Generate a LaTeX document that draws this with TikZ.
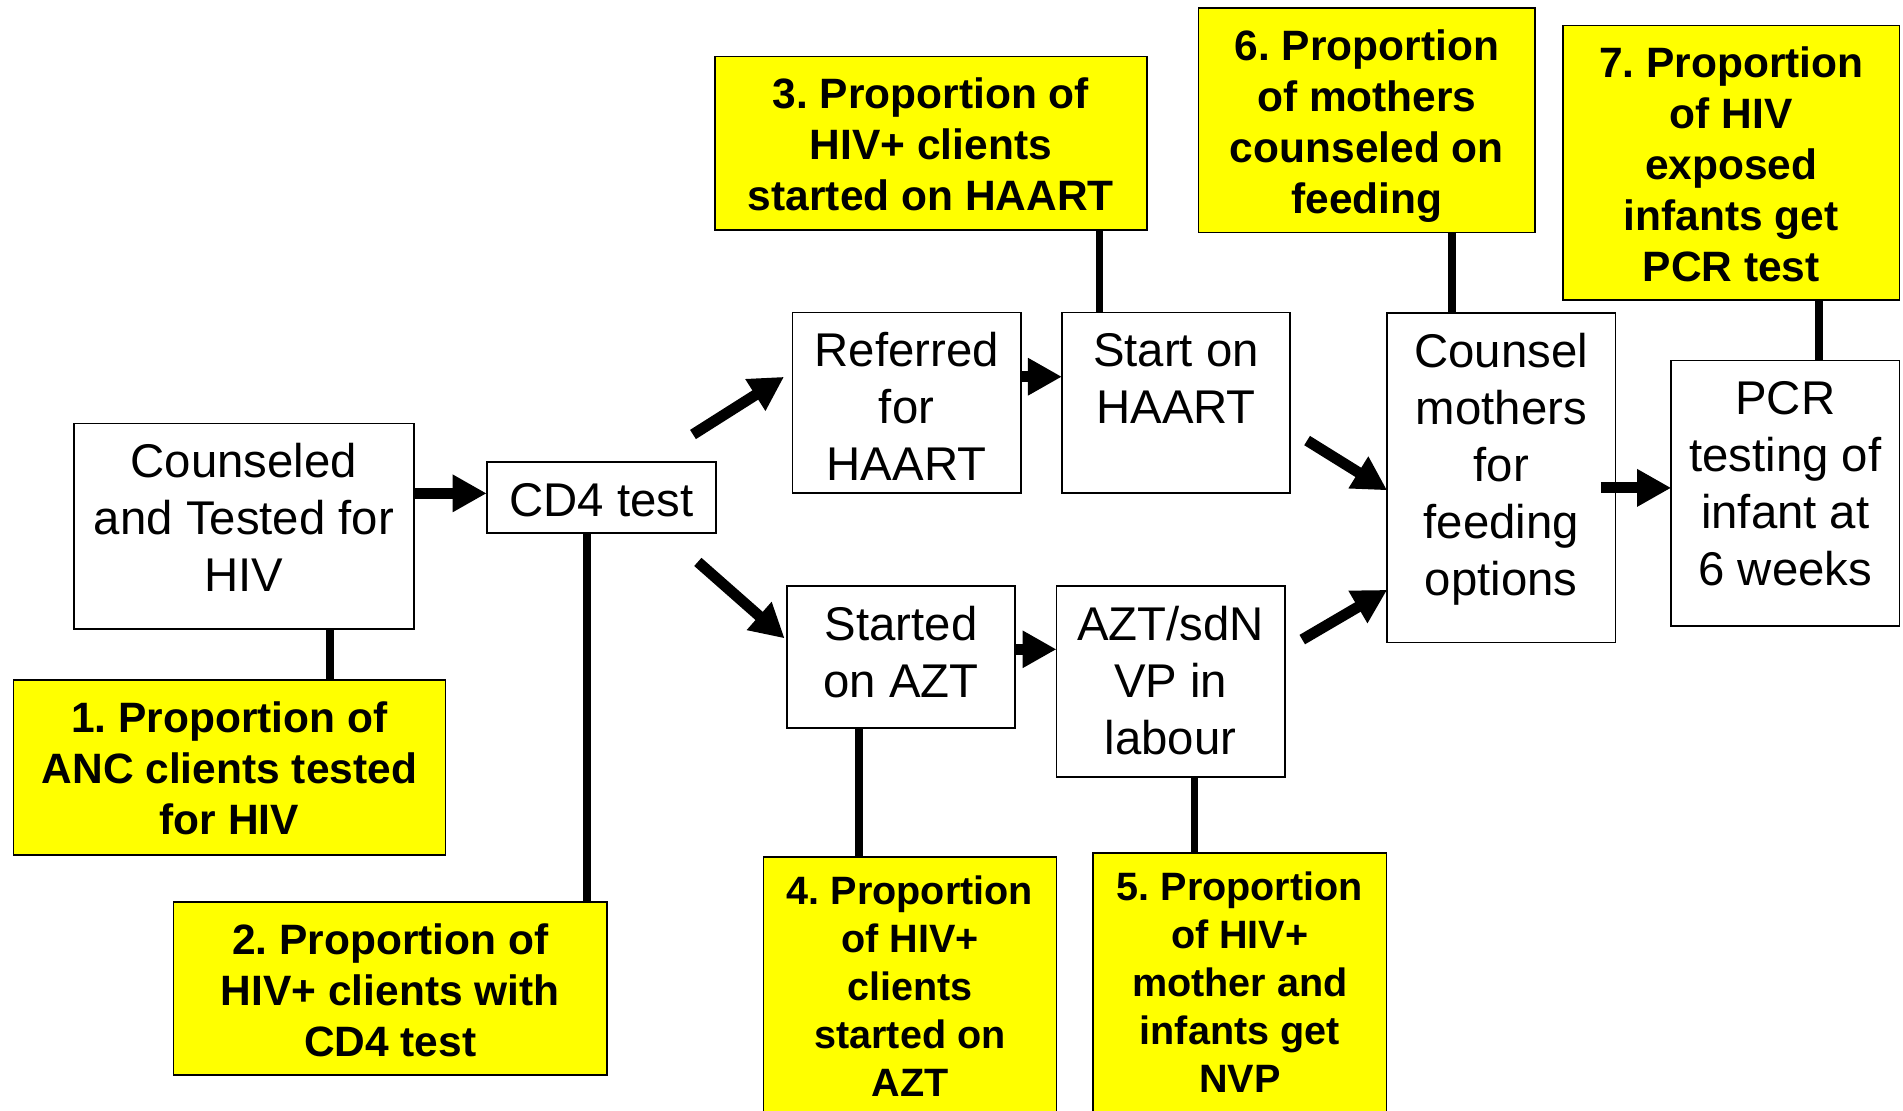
\documentclass[tikz,border=0pt]{standalone}
\usepackage{fontspec}
\setmainfont{Liberation Sans}
\usetikzlibrary{arrows.meta}
\definecolor{hl}{RGB}{255,255,0}
\frenchspacing
\begin{document}
\begin{tikzpicture}[x=1pt,y=-1pt,
  box/.style={draw=black, line width=1.4pt, fill=white, inner sep=0pt, outer sep=0pt, anchor=north west},
  ybox/.style={box, fill=hl},
  rtxt/.style={anchor=north, inner sep=0pt, align=center, font=\fontsize{39}{47}\selectfont},
  btxt/.style={anchor=north, inner sep=0pt, align=center, font=\fontsize{35}{42}\selectfont\bfseries},
  stxt/.style={anchor=north, inner sep=0pt, align=center, font=\fontsize{32.6}{39.5}\selectfont\bfseries},
  flow/.style={line width=9pt, -{Triangle[length=28pt,width=29pt]}},
  link/.style={line width=6pt}]
\fill[white] (0,0) rectangle (1568,915);
\useasboundingbox (0,0) rectangle (1568,915);

% white boxes
\node[box, minimum width=280pt, minimum height=169.5pt] (cnt) at (61,349) {};
\node[rtxt] (cnt-t) at ([yshift=-11.6pt]cnt.north) {\strut Counseled\\\strut and Tested for\\\strut HIV};
\node[box, minimum width=189pt, minimum height=58.5pt] (cd4) at (401,380.5) {};
\node[rtxt] (cd4-t) at ([yshift=-11.6pt]cd4.north) {\strut CD4 test};
\node[box, minimum width=188pt, minimum height=148.5pt] (ref) at (653,257.5) {};
\node[rtxt] (ref-t) at ([yshift=-11.6pt]ref.north) {\strut Referred\\\strut for\\\strut HAART};
\node[box, minimum width=188pt, minimum height=148.5pt] (sth) at (875,257.5) {};
\node[rtxt] (sth-t) at ([yshift=-11.6pt]sth.north) {\strut Start on\\\strut HAART};
\node[box, minimum width=188pt, minimum height=271.5pt] (cou) at (1143,258) {};
\node[rtxt] (cou-t) at ([yshift=-11.6pt]cou.north) {\strut Counsel\\\strut mothers\\\strut for\\\strut feeding\\\strut options};
\node[box, minimum width=188pt, minimum height=219pt] (pcr) at (1377,297) {};
\node[rtxt] (pcr-t) at ([yshift=-11.6pt]pcr.north) {\strut PCR\\\strut testing of\\\strut infant at\\\strut 6 weeks};
\node[box, minimum width=188pt, minimum height=117pt] (saz) at (648.5,483) {};
\node[rtxt] (saz-t) at ([yshift=-11.6pt]saz.north) {\strut Started\\\strut on AZT};
\node[box, minimum width=188pt, minimum height=157pt] (azt) at (870.5,483) {};
\node[rtxt] (azt-t) at ([yshift=-11.6pt]azt.north) {\strut AZT/sdN\\\strut VP in\\\strut labour};

% yellow boxes
\node[ybox, minimum width=356pt, minimum height=144pt] (y1) at (11,560.5) {};
\node[btxt] (y1-t) at ([yshift=-13.6pt]y1.north) {\strut 1. Proportion of\\\strut ANC clients tested\\\strut for HIV};
\node[ybox, minimum width=357pt, minimum height=143pt] (y2) at (143,743) {};
\node[btxt] (y2-t) at ([yshift=-13.6pt]y2.north) {\strut 2. Proportion of\\\strut HIV+ clients with\\\strut CD4 test};
\node[ybox, minimum width=356pt, minimum height=143pt] (y3) at (589,46.5) {};
\node[btxt] (y3-t) at ([yshift=-13.6pt]y3.north) {\strut 3. Proportion of\\\strut HIV+ clients\\\strut started on HAART};
\node[ybox, minimum width=241.5pt, minimum height=224pt] (y4) at (629,706) {};
\node[stxt] (y4-t) at ([yshift=-11.35pt]y4.north) {\strut 4. Proportion\\\strut of HIV+\\\strut clients\\\strut started on\\\strut AZT};
\node[ybox, minimum width=242pt, minimum height=227pt] (y5) at (900.5,703) {};
\node[stxt] (y5-t) at ([yshift=-11.35pt]y5.north) {\strut 5. Proportion\\\strut of HIV+\\\strut mother and\\\strut infants get\\\strut NVP};
\node[ybox, minimum width=277.5pt, minimum height=185pt] (y6) at (987.5,6.5) {};
\node[btxt] (y6-t) at ([yshift=-13.6pt]y6.north) {\strut 6. Proportion\\\strut of mothers\\\strut counseled on\\\strut feeding};
\node[ybox, minimum width=277pt, minimum height=226pt] (y7) at (1288,21) {};
\node[btxt] (y7-t) at ([yshift=-13.6pt]y7.north) {\strut 7. Proportion\\\strut of HIV\\\strut exposed\\\strut infants get\\\strut PCR test};

% block arrows
\draw[flow] ([yshift=27.25pt]cnt.east) -- ([yshift=3.25pt]cd4.west);
\draw[flow] ([yshift=21.35pt]ref.east) -- ([yshift=21.35pt]sth.west);
\draw[flow] ([yshift=6.5pt]saz.east) -- ([yshift=26.5pt]azt.west);
\draw[flow] ([xshift=-12pt,yshift=-8.25pt]cou.east) -- ([yshift=4.5pt]pcr.west);
\coordinate (d1s) at (571,358);
\coordinate (d1e) at (646,310.5);
\coordinate (d2s) at (575,463);
\coordinate (d2e) at (646.5,526);
\coordinate (d3s) at (1077,363);
\coordinate (d3e) at (1143,404);
\coordinate (d4s) at (1073,527);
\coordinate (d4e) at (1143,486);
\draw[flow] (d1s) -- (d1e);
\draw[flow] (d2s) -- (d2e);
\draw[flow] (d3s) -- (d3e);
\draw[flow] (d4s) -- (d4e);

% indicator links
\draw[link] ([xshift=71pt]cnt.south) -- ([xshift=83pt]y1.north);
\draw[link] ([xshift=-11.8pt]cd4.south) -- ([xshift=162.2pt]y2.north);
\draw[link] ([xshift=139pt]y3.south) -- ([xshift=-63pt]sth.north);
\draw[link] ([xshift=-34.8pt]saz.south) -- ([xshift=-42.05pt]y4.north);
\draw[link] ([xshift=19.8pt]azt.south) -- ([xshift=-37.2pt]y5.north);
\draw[link] ([xshift=70.05pt]y6.south) -- ([xshift=-40.7pt]cou.north);
\draw[link] ([xshift=72.3pt]y7.south) -- ([xshift=27.8pt]pcr.north);
\end{tikzpicture}
\end{document}
